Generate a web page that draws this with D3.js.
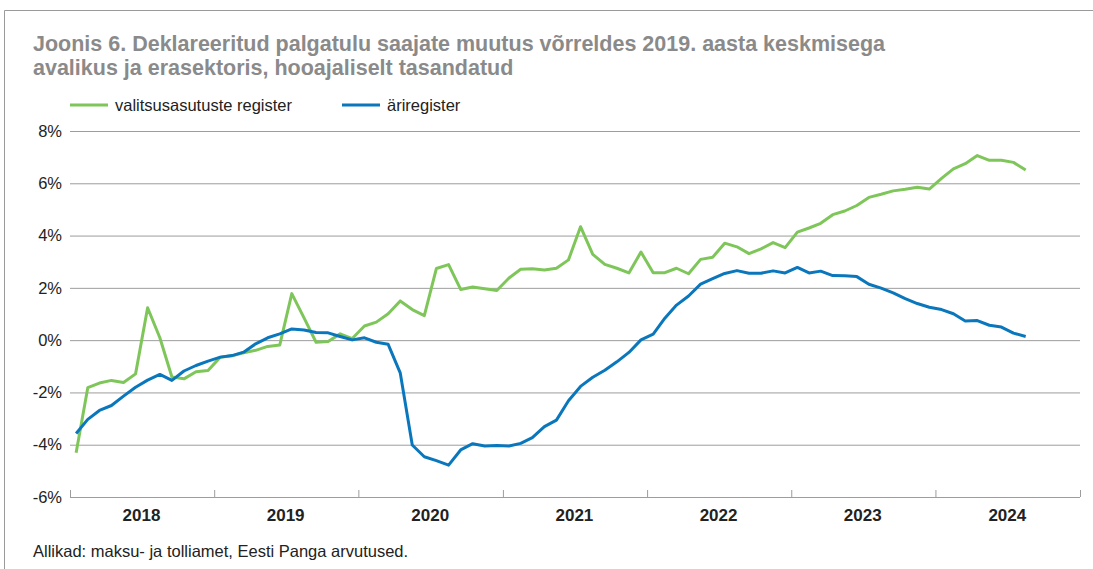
<!DOCTYPE html>
<html>
<head>
<meta charset="utf-8">
<script src="https://cdn.jsdelivr.net/npm/d3@7"></script>
<style>
  html, body { margin: 0; padding: 0; background: #fff; }
  svg { display: block; font-family: "Liberation Sans", Arial, sans-serif; }
</style>
</head>
<body>
<svg id="chart" width="1093" height="569"></svg>
<script>
// ---- Data (monthly, Jan 2018 – Aug 2024, %) ----
const startMonth = "2018-01";
const years = ["2018", "2019", "2020", "2021", "2022", "2023", "2024"];
const yTicks = [-6, -4, -2, 0, 2, 4, 6, 8];
const seriesNames = ["valitsusasutuste register", "äriregister"];
const seriesColors = ["#7fc65a", "#0a77bd"];

const government = [
  -4.31, -1.82, -1.64, -1.54, -1.62, -1.29, 1.24, 0.09, -1.41, -1.48, -1.21, -1.16,
  -0.65, -0.60, -0.48, -0.39, -0.24, -0.19, 1.78, 0.85, -0.08, -0.05, 0.24, 0.06,
  0.54, 0.69, 1.01, 1.50, 1.17, 0.94, 2.74, 2.89, 1.94, 2.03, 1.97, 1.90,
  2.38, 2.71, 2.73, 2.68, 2.75, 3.07, 4.34, 3.28, 2.90, 2.75, 2.57, 3.37,
  2.58, 2.58, 2.75, 2.54, 3.09, 3.17, 3.71, 3.57, 3.31, 3.49, 3.73, 3.54,
  4.13, 4.29, 4.47, 4.80, 4.94, 5.15, 5.46, 5.58, 5.71, 5.77, 5.85, 5.78,
  6.19, 6.55, 6.75, 7.06, 6.88, 6.88, 6.80, 6.51
];
const business = [
  -3.57, -3.03, -2.69, -2.50, -2.14, -1.80, -1.53, -1.31, -1.54, -1.18, -0.97, -0.80,
  -0.65, -0.59, -0.46, -0.14, 0.09, 0.24, 0.43, 0.39, 0.29, 0.28, 0.14, 0.01,
  0.09, -0.08, -0.16, -1.25, -4.01, -4.46, -4.61, -4.78, -4.20, -3.96, -4.05, -4.03,
  -4.05, -3.95, -3.73, -3.31, -3.06, -2.32, -1.77, -1.42, -1.15, -0.83, -0.47, 0.01,
  0.23, 0.84, 1.34, 1.69, 2.14, 2.35, 2.55, 2.66, 2.56, 2.56, 2.65, 2.57,
  2.78, 2.57, 2.64, 2.47, 2.46, 2.43, 2.14, 1.99, 1.81, 1.59, 1.40, 1.26,
  1.17, 1.01, 0.73, 0.75, 0.57, 0.50, 0.27, 0.14
];

const title1 = "Joonis 6. Deklareeritud palgatulu saajate muutus võrreldes 2019. aasta keskmisega";
const title2 = "avalikus ja erasektoris, hooajaliselt tasandatud";
const source = "Allikad: maksu- ja tolliamet, Eesti Panga arvutused.";

// ---- Layout ----
const svg = d3.select("#chart");
const mLeft = 70, mRight = 1080, mTop = 131, mBottom = 497;

const parse = d3.timeParse("%Y-%m");
const t0 = parse(startMonth);
const months = d3.range(government.length).map(i => d3.timeMonth.offset(t0, i));
const mid = d => new Date((+d + +d3.timeMonth.offset(d, 1)) / 2);

const x = d3.scaleTime()
  .domain([new Date(+years[0], 0, 1), new Date(+years[years.length - 1] + 1, 0, 1)])
  .range([mLeft, mRight]);
const y = d3.scaleLinear().domain([-6, 8]).range([mBottom, mTop]);

// frame
svg.append("line").attr("x1", 4.5).attr("x2", 1093).attr("y1", 10.5).attr("y2", 10.5)
  .attr("stroke", "#9a9a9a").attr("stroke-width", 1);
svg.append("line").attr("x1", 4.5).attr("x2", 4.5).attr("y1", 10.5).attr("y2", 569)
  .attr("stroke", "#9a9a9a").attr("stroke-width", 1);

// title
const tg = svg.append("text").attr("x", 33).attr("fill", "#8a8a8a")
  .attr("font-size", 21.5).attr("font-weight", "bold");
tg.append("tspan").attr("x", 33).attr("y", 51).text(title1);
tg.append("tspan").attr("x", 33).attr("y", 75).text(title2);

// legend
const legendX = [70, 342];
seriesNames.forEach((n, i) => {
  const g = svg.append("g").attr("transform", `translate(${legendX[i]},105)`);
  g.append("line").attr("x1", 0).attr("x2", 38).attr("y1", 0).attr("y2", 0)
    .attr("stroke", seriesColors[i]).attr("stroke-width", 3);
  g.append("text").attr("x", 45).attr("y", 6).attr("font-size", 16.5).attr("fill", "#222").text(n);
});

// gridlines + y labels
const yAxis = d3.axisLeft(y).tickValues(yTicks).tickSize(-(mRight - mLeft)).tickFormat(d => d + "%");
const yg = svg.append("g").attr("transform", `translate(${mLeft},0)`).call(yAxis);
yg.select(".domain").remove();
yg.selectAll(".tick line").attr("stroke", "#9d9d9d").attr("stroke-width", 1);
yg.selectAll(".tick text").attr("x", -8).attr("font-size", 16.5).attr("fill", "#222")
  .attr("font-family", "Liberation Sans, Arial, sans-serif");

// x axis: ticks at year boundaries (pointing up), labels centered in year
const boundaries = d3.range(years.length + 1).map(i => new Date(+years[0] + i, 0, 1));
const xAxis = d3.axisBottom(x).tickValues(boundaries).tickSize(-7).tickFormat("");
const xg = svg.append("g").attr("transform", `translate(0,${mBottom})`).call(xAxis);
xg.select(".domain").attr("stroke", "#9d9d9d").attr("d", `M${mLeft},0.5H${mRight}`);
xg.selectAll(".tick line").attr("stroke", "#9d9d9d");
xg.selectAll(".yl").data(years).join("text")
  .attr("x", d => x(new Date(+d, 6, 1)))
  .attr("y", 24).attr("text-anchor", "middle")
  .attr("font-size", 17).attr("font-weight", "bold").attr("fill", "#222")
  .attr("font-family", "Liberation Sans, Arial, sans-serif")
  .text(d => d);

// lines
const line = d3.line().x((d, i) => x(mid(months[i]))).y(d => y(d)).curve(d3.curveLinear);
[government, business].forEach((s, i) => {
  svg.append("path").datum(s).attr("fill", "none")
    .attr("stroke", seriesColors[i]).attr("stroke-width", 3)
    .attr("stroke-linejoin", "round").attr("d", line);
});

// source
svg.append("text").attr("x", 33).attr("y", 557).attr("font-size", 16.5).attr("fill", "#222").text(source);
</script>
</body>
</html>
